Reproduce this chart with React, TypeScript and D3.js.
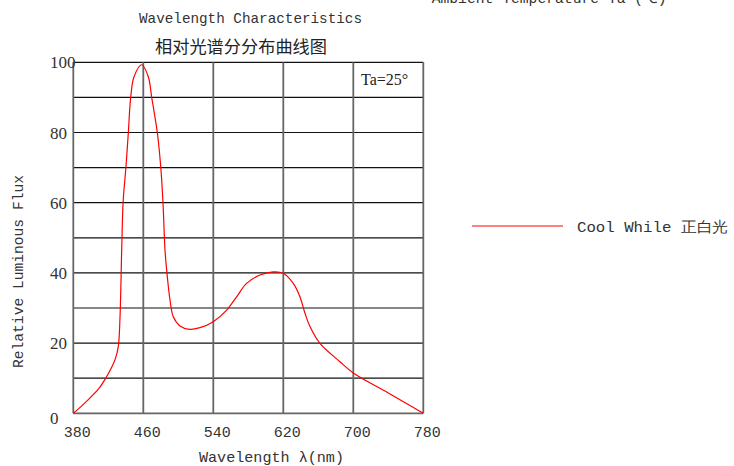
import React from 'react';
import * as d3 from 'd3';

// spectrum (wavelength nm, relative flux %)
const wavelengths = [380, 390, 400, 410, 418, 424, 428, 431.4, 433.4, 435.3, 437, 440.2, 442.9, 445.6, 449.4, 458.2, 465.7, 469.6, 476, 479.9, 482.5, 484.8, 486.7, 490.5, 494.3, 502, 513, 524.8, 540, 555.3, 566.7, 578, 593.4, 608.6, 620, 631.4, 639, 644.8, 650.5, 661.9, 684.7, 700, 740, 780];
const flux = [0, 2.2, 4.6, 7.3, 10.4, 13.2, 15.5, 19, 27.5, 46.5, 60.5, 70.3, 80, 90, 95.9, 99.3, 95.9, 90, 80, 70.3, 60, 46.5, 40.8, 32.3, 27.5, 24.9, 23.9, 24.4, 26.1, 29.4, 33.2, 37, 39.4, 40.3, 39.9, 37, 33.2, 28.5, 24.7, 19.9, 14.7, 11.5, 5.8, 0];

const xTicks = [380, 460, 540, 620, 700, 780];
const yTicks = [0, 20, 40, 60, 80, 100];
const yGrid = d3.range(10, 101, 10);

const seriesName = 'Cool While  正白光';
const title = 'Wavelength Characteristics';
const subtitle = '相对光谱分分布曲线图';

const mono = '"Liberation Mono", "DejaVu Sans Mono", monospace';
const serif = '"Liberation Serif", serif';
const cjk = '"Noto Sans CJK SC", sans-serif';

export default function App() {
  const x = d3.scaleLinear().domain([380, 780]).range([73.3, 423.3]);
  const y = d3.scaleLinear().domain([0, 100]).range([413.3, 62.3]);

  const pts: [number, number][] = wavelengths.map((w, i) => [w, flux[i]]);
  const line = d3.line<[number, number]>()
    .x(d => x(d[0]))
    .y(d => y(d[1]))
    .curve(d3.curveCatmullRom.alpha(0.5));

  return (
    <svg width={734} height={466} style={{ position: 'absolute', left: 0, top: 0, background: '#fff' }}>
      <style>{`body{margin:0}`}</style>

      {/* top texts */}
      <text x={431.7} y={3} fontFamily={mono} fontSize={15} fill="#333" textLength={235} lengthAdjust="spacingAndGlyphs">Ambient Temperature Ta (℃)</text>
      <text x={139} y={22.7} fontFamily={mono} fontSize={15} fill="#333" textLength={223} lengthAdjust="spacingAndGlyphs">{title}</text>
      <text x={155} y={53} fontFamily={cjk} fontSize={16.5} fill="#222" textLength={172} lengthAdjust="spacingAndGlyphs">{subtitle}</text>

      {/* horizontal grid */}
      {yGrid.map(v => (
        <line key={'h' + v} x1={x(380)} x2={x(780)} y1={y(v)} y2={y(v)} stroke="#111" strokeWidth={1.2} />
      ))}
      {/* vertical grid */}
      {xTicks.map(t => (
        <line key={'v' + t} x1={x(t)} x2={x(t)} y1={y(100)} y2={y(0)} stroke="#666" strokeWidth={1.8} />
      ))}
      <line x1={x(380)} x2={x(780)} y1={y(0)} y2={y(0)} stroke="#666" strokeWidth={1.8} />

      {/* curve */}
      <path d={line(pts) ?? ''} fill="none" stroke="#ff0000" strokeWidth={1.2} />

      <text x={361} y={85} fontFamily={serif} fontSize={16} fill="#222">Ta=25°</text>

      {/* y tick labels */}
      {yTicks.map(v => (
        <text key={'yl' + v} x={50} y={y(v) + (v === 0 ? 11 : 6)} fontFamily={serif} fontSize={17} fill="#333">{v}</text>
      ))}
      {/* x tick labels */}
      {xTicks.map(t => (
        <text key={'xl' + t} x={x(t) + 4} y={436.5} textAnchor="middle" fontFamily={mono} fontSize={15} fill="#333">{t}</text>
      ))}

      {/* axis titles */}
      <text x={199} y={461.5} fontFamily={mono} fontSize={15} fill="#333" textLength={145} lengthAdjust="spacingAndGlyphs">Wavelength λ(nm)</text>
      <text transform="translate(23,368) rotate(-90)" fontFamily={mono} fontSize={15} fill="#333" textLength={193} lengthAdjust="spacingAndGlyphs">Relative Luminous Flux</text>

      {/* legend */}
      <line x1={472} x2={563} y1={226} y2={226} stroke="#ff0000" strokeWidth={1.2} />
      <text x={577} y={231.5} fontFamily={mono} fontSize={15} fill="#333" textLength={151} lengthAdjust="spacingAndGlyphs">{seriesName}</text>
    </svg>
  );
}
